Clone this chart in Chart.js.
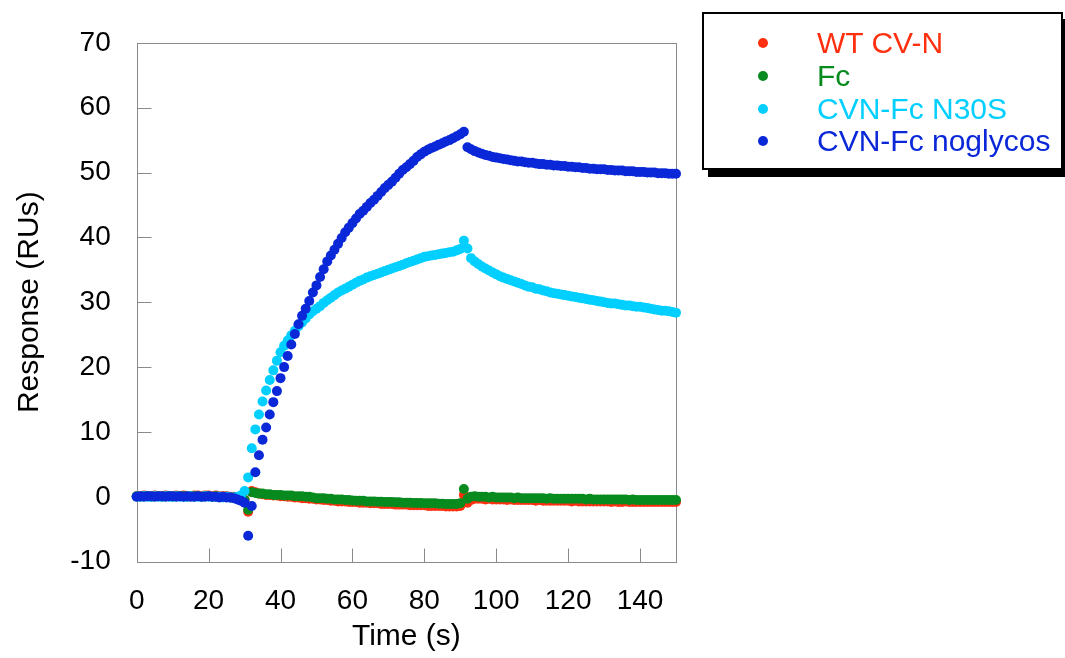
<!DOCTYPE html>
<html><head><meta charset="utf-8">
<script src="https://cdn.jsdelivr.net/npm/chart.js@4.4.1/dist/chart.umd.min.js"></script>
<style>
html,body{margin:0;padding:0;background:#fff;}
#wrap{position:relative;width:1065px;height:658px;overflow:hidden;background:#fff;}
#legend{position:absolute;left:702px;top:12px;width:357px;height:154px;border:2px solid #000;background:#fff;box-shadow:6px 7px 0 #000;font-family:"Liberation Sans",Arial,sans-serif;font-size:30px;}
.item{position:absolute;left:0;width:100%;height:32px;line-height:32px;}
.dot{position:absolute;left:54px;top:11px;width:10px;height:10px;border-radius:50%;}
.lbl{position:absolute;left:113px;top:0;white-space:nowrap;}
</style>
</head><body>
<div id="wrap">
<canvas id="c" width="1065" height="658"></canvas>
<div id="legend"></div>
</div>
<script>
const time = [0,1,2,3,4,5,6,7,8,9,10,11,12,13,14,15,16,17,18,19,20,21,22,23,24,25,26,27,28,29,30,31,32,33,34,35,36,37,38,39,40,41,42,43,44,45,46,47,48,49,50,51,52,53,54,55,56,57,58,59,60,61,62,63,64,65,66,67,68,69,70,71,72,73,74,75,76,77,78,79,80,81,82,83,84,85,86,87,88,89,90,91,92,93,94,95,96,97,98,99,100,101,102,103,104,105,106,107,108,109,110,111,112,113,114,115,116,117,118,119,120,121,122,123,124,125,126,127,128,129,130,131,132,133,134,135,136,137,138,139,140,141,142,143,144,145,146,147,148,149,150];

const wtCVN = [0.1,0.1,0.2,0.1,0.1,0.2,0.1,0.1,0.2,0.1,
0.1,0.2,0.1,0.2,0.1,0.1,0.2,0.2,0.1,0.2,
0.2,0.1,0.2,0.1,0.1,0.1,0.0,0.0,-0.1,-0.2,
-0.4,-2.3,0.9,0.7,0.5,0.4,0.3,0.3,0.2,0.2,
0.1,0.1,0.0,0.0,-0.1,-0.1,-0.2,-0.2,-0.3,-0.3,
-0.4,-0.4,-0.5,-0.5,-0.6,-0.6,-0.7,-0.7,-0.7,-0.8,
-0.8,-0.8,-0.9,-0.9,-0.9,-1.0,-1.0,-1.0,-1.1,-1.1,
-1.1,-1.1,-1.2,-1.2,-1.2,-1.2,-1.3,-1.3,-1.3,-1.3,
-1.3,-1.4,-1.4,-1.4,-1.4,-1.4,-1.5,-1.5,-1.5,-1.5,
-1.4,0.3,-0.9,-0.5,-0.3,-0.3,-0.3,-0.4,-0.3,-0.4,
-0.4,-0.4,-0.4,-0.5,-0.4,-0.5,-0.5,-0.5,-0.5,-0.5,
-0.5,-0.6,-0.5,-0.6,-0.6,-0.6,-0.6,-0.6,-0.6,-0.6,
-0.6,-0.7,-0.6,-0.7,-0.7,-0.7,-0.7,-0.7,-0.7,-0.7,
-0.7,-0.7,-0.8,-0.7,-0.8,-0.8,-0.7,-0.8,-0.8,-0.8,
-0.8,-0.8,-0.8,-0.8,-0.8,-0.8,-0.8,-0.8,-0.8,-0.8,-0.8];

const fc = [0.1,0.0,0.1,0.1,0.0,0.1,0.1,0.0,0.1,0.1,
0.0,0.1,0.1,0.1,0.0,0.1,0.1,0.1,0.0,0.1,
0.1,0.0,0.1,0.0,0.0,0.0,-0.1,-0.1,-0.2,-0.3,
-0.5,-2.0,0.7,0.6,0.5,0.5,0.4,0.4,0.3,0.3,
0.3,0.2,0.2,0.2,0.1,0.1,0.1,0.0,0.0,-0.1,
-0.2,-0.2,-0.2,-0.3,-0.3,-0.4,-0.4,-0.4,-0.5,-0.5,
-0.55,-0.6,-0.6,-0.6,-0.7,-0.7,-0.7,-0.75,-0.75,-0.8,
-0.8,-0.8,-0.85,-0.85,-0.9,-0.9,-0.9,-0.95,-0.95,-0.95,
-1.0,-1.0,-1.0,-1.0,-1.05,-1.05,-1.1,-1.1,-1.1,-1.1,
-1.0,1.2,-0.3,0.0,0.1,0.0,0.0,0.0,-0.1,0.0,
-0.1,-0.1,-0.1,-0.1,-0.1,-0.2,-0.1,-0.2,-0.2,-0.2,
-0.2,-0.2,-0.2,-0.2,-0.3,-0.2,-0.3,-0.3,-0.3,-0.3,
-0.3,-0.3,-0.3,-0.3,-0.3,-0.4,-0.3,-0.4,-0.4,-0.4,
-0.4,-0.4,-0.4,-0.4,-0.4,-0.4,-0.4,-0.5,-0.4,-0.5,
-0.5,-0.5,-0.5,-0.5,-0.5,-0.5,-0.5,-0.5,-0.5,-0.5,-0.5];

const cvnFcN30S = [0.0,0.0,0.1,0.0,0.0,0.1,0.0,0.0,0.1,0.0,
0.0,0.1,0.0,0.0,0.0,0.1,0.0,0.0,0.0,0.1,
0.0,0.0,0.0,0.0,-0.1,0.0,-0.1,-0.1,0.0,0.2,
0.9,3.0,7.5,10.4,12.7,14.7,16.4,18.0,19.5,21.0,
22.3,23.3,24.1,24.9,25.6,26.3,26.9,27.5,28.1,28.6,
29.0,29.4,29.9,30.3,30.7,31.1,31.5,31.8,32.1,32.4,
32.7,33.0,33.3,33.5,33.8,34.0,34.2,34.4,34.6,34.8,
35.0,35.2,35.4,35.6,35.8,36.0,36.2,36.4,36.6,36.8,
37.0,37.1,37.2,37.3,37.4,37.5,37.6,37.7,37.8,38.0,
38.2,39.5,38.3,36.8,36.3,35.9,35.5,35.2,34.9,34.6,
34.3,34.0,33.8,33.6,33.4,33.2,33.0,32.8,32.6,32.4,
32.3,32.1,32.0,31.8,31.7,31.5,31.4,31.3,31.2,31.1,
31.0,30.9,30.8,30.7,30.6,30.5,30.4,30.3,30.2,30.1,
30.0,29.9,29.8,29.8,29.7,29.6,29.5,29.5,29.4,29.3,
29.3,29.2,29.1,29.0,28.9,28.8,28.7,28.7,28.6,28.5,28.4];

const cvnFcNoglycos = [0.0,0.1,0.0,0.1,0.1,0.0,0.1,0.1,0.0,0.1,
0.1,0.0,0.1,0.0,0.1,0.0,0.0,0.1,0.0,0.0,
0.1,0.0,0.0,-0.1,0.0,-0.1,-0.1,-0.2,-0.4,-0.6,
-0.9,-6.0,-1.4,3.8,6.4,8.8,10.7,12.7,14.6,16.3,
18.3,20.0,21.7,23.5,25.1,26.6,27.9,29.0,30.2,31.5,
32.6,33.9,35.1,36.3,37.2,38.1,39.0,39.9,40.8,41.5,
42.2,42.9,43.6,44.1,44.7,45.3,45.8,46.4,47.0,47.6,
48.1,48.6,49.2,49.8,50.4,50.8,51.3,51.8,52.4,52.8,
53.2,53.5,53.8,54.0,54.3,54.5,54.8,55.0,55.3,55.6,
55.9,56.3,53.9,53.6,53.3,53.1,52.9,52.7,52.6,52.4,
52.3,52.2,52.1,52.0,51.9,51.8,51.7,51.7,51.6,51.5,
51.5,51.4,51.3,51.3,51.2,51.2,51.1,51.1,51.0,51.0,
50.9,50.9,50.8,50.8,50.7,50.7,50.6,50.6,50.5,50.5,
50.5,50.4,50.4,50.3,50.3,50.3,50.2,50.2,50.2,50.1,
50.1,50.1,50.0,50.0,50.0,49.9,49.9,49.9,49.8,49.8,49.8];

const seriesNames = ['WT CV-N', 'Fc', 'CVN-Fc N30S', 'CVN-Fc noglycos'];
const seriesValues = [wtCVN, fc, cvnFcN30S, cvnFcNoglycos];
const seriesColors = ['#ff3010', '#078a1e', '#00cfff', '#0a28d8'];
const xTickStep = 20, yTickStep = 10;
const FONT = '"Liberation Sans", Arial, sans-serif';

// legend (HTML, real text)
const leg = document.getElementById('legend');
const rowTops = [13, 46, 79, 111];
seriesNames.forEach((n, i) => {
  const it = document.createElement('div');
  it.className = 'item';
  it.style.top = rowTops[i] + 'px';
  it.innerHTML = '<span class="dot" style="background:' + seriesColors[i] + '"></span><span class="lbl" style="color:' + seriesColors[i] + '">' + n + '</span>';
  leg.appendChild(it);
});

const frame = {
  id: 'frame',
  beforeDatasetsDraw(chart) {
    const {ctx, chartArea: a, scales: {x, y}} = chart;
    ctx.save();
    ctx.strokeStyle = '#8a8a8a';
    ctx.lineWidth = 1;
    const L = Math.round(a.left) + 0.5, R = Math.round(a.right) + 0.5, T = Math.round(a.top) + 0.5, B = Math.round(a.bottom) + 0.5;
    ctx.strokeRect(L, T, R - L, B - T);
    ctx.beginPath();
    x.ticks.forEach(t => {
      const px = Math.round(x.getPixelForValue(t.value)) + 0.5;
      ctx.moveTo(px, B); ctx.lineTo(px, B - 14);
    });
    y.ticks.forEach(t => {
      const py = Math.round(y.getPixelForValue(t.value)) + 0.5;
      ctx.moveTo(L, py); ctx.lineTo(L + 14, py);
    });
    ctx.stroke();
    ctx.restore();
  }
};

new Chart(document.getElementById('c'), {
  type: 'scatter',
  data: {
    datasets: seriesNames.map((n, i) => ({
      label: n,
      data: time.map((t, k) => ({x: t, y: seriesValues[i][k]})),
      backgroundColor: seriesColors[i],
      borderColor: seriesColors[i],
      pointRadius: 5,
      pointBorderWidth: 0,
      pointHoverRadius: 5,
      showLine: false,
      clip: false,
      order: seriesNames.length - i
    }))
  },
  options: {
    responsive: false,
    animation: false,
    layout: {padding: {left: 0, right: 389, top: 21.7, bottom: 0}},
    plugins: {legend: {display: false}, tooltip: {enabled: false}},
    scales: {
      x: {
        type: 'linear', position: 'bottom', min: 0, max: 150,
        ticks: {stepSize: xTickStep, includeBounds: false, color: '#000', font: {family: FONT, size: 28}, padding: 23, maxRotation: 0, autoSkip: false},
        grid: {display: false, drawTicks: false},
        border: {display: false},
        title: {display: true, text: 'Time (s)', color: '#000', font: {family: FONT, size: 30}, padding: {top: 0, bottom: 3}},
        afterFit: s => { s.height = 96.3; }
      },
      y: {
        type: 'linear', position: 'left', min: -10, max: 70,
        ticks: {stepSize: yTickStep, color: '#000', font: {family: FONT, size: 28}, padding: 26},
        grid: {display: false, drawTicks: false},
        border: {display: false},
        title: {display: true, text: 'Response (RUs)', color: '#000', font: {family: FONT, size: 30}, padding: {top: 12, bottom: 0}},
        afterFit: s => { s.width = 136.7; }
      }
    }
  },
  plugins: [frame]
});
</script>
</body></html>
